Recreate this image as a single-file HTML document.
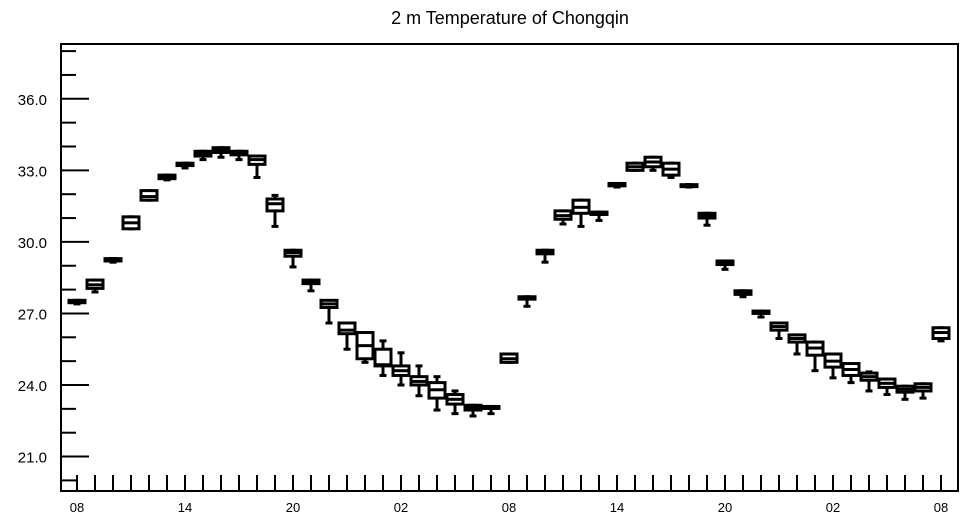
<!DOCTYPE html>
<html><head><meta charset="utf-8"><style>
body{margin:0;background:#fff;width:964px;height:520px;overflow:hidden}
svg{display:block;font-family:"Liberation Sans",sans-serif}
</style></head><body>
<svg id="chart" width="964" height="520">
<text x="510" y="24" text-anchor="middle" font-size="18">2 m Temperature of Chongqin</text>
<rect x="61" y="44" width="897" height="447" fill="none" stroke="#000" stroke-width="2"/>
<g id="axes"></g><g id="boxes"></g>
</svg>
<script>
const hours=["08","09","10","11","12","13","14","15","16","17","18","19","20","21","22","23","00","01","02","03","04","05","06","07","08","09","10","11","12","13","14","15","16","17","18","19","20","21","22","23","00","01","02","03","04","05","06","07","08"];
const mins=[27.4,27.9,29.15,30.55,31.75,32.6,33.1,33.45,33.55,33.45,32.7,30.65,28.95,27.95,26.6,25.5,24.95,24.4,24.0,23.55,22.95,22.8,22.7,22.8,24.95,27.3,29.15,30.75,30.65,30.9,32.3,33.0,33.0,32.7,32.3,30.7,28.85,27.7,26.85,25.95,25.3,24.6,24.3,24.1,23.75,23.6,23.4,23.45,25.85];
const q1s=[27.45,28.05,29.2,30.55,31.75,32.65,33.2,33.6,33.75,33.65,33.25,31.3,29.4,28.25,27.25,26.15,25.1,24.8,24.4,24.0,23.45,23.2,22.95,23.05,24.95,27.6,29.5,30.95,31.2,31.15,32.35,33.0,33.15,32.8,32.35,31.0,29.05,27.8,27.0,26.3,25.8,25.25,24.75,24.4,24.2,23.9,23.7,23.75,25.95];
const meds=[27.5,28.2,29.25,30.8,31.9,32.72,33.25,33.7,33.85,33.72,33.45,31.6,29.55,28.32,27.4,26.3,25.65,24.85,24.6,24.15,23.8,23.4,23.05,23.07,25.1,27.65,29.57,31.1,31.45,31.2,32.4,33.15,33.35,33.05,32.37,31.1,29.12,27.87,27.05,26.45,25.95,25.55,25.0,24.65,24.35,24.07,23.82,23.9,26.2];
const q3s=[27.55,28.4,29.3,31.05,32.15,32.8,33.3,33.8,33.95,33.8,33.6,31.8,29.65,28.4,27.55,26.6,26.2,25.5,24.8,24.35,24.1,23.6,23.15,23.1,25.3,27.7,29.65,31.3,31.75,31.25,32.45,33.3,33.55,33.3,32.4,31.2,29.2,27.95,27.1,26.6,26.1,25.8,25.3,24.9,24.5,24.25,23.95,24.05,26.4];
const maxs=[27.55,28.4,29.3,31.05,32.15,32.8,33.3,33.8,33.95,33.8,33.6,31.95,29.65,28.4,27.5,26.55,26.2,25.85,25.35,24.8,24.35,23.75,23.15,23.1,25.3,27.7,29.65,31.3,31.75,31.25,32.45,33.3,33.55,33.3,32.4,31.2,29.2,27.95,27.1,26.6,26.1,25.8,25.2,24.85,24.55,24.25,23.95,24.05,26.4];
const yTicks=[21,24,27,30,33,36];
const NS="http://www.w3.org/2000/svg";
const X=i=>77+i*18, Y=v=>385-(v-24)*23.85;
function mk(t,a,p){const e=document.createElementNS(NS,t);for(const k in a)e.setAttribute(k,a[k]);p.appendChild(e);return e;}
const ax=document.getElementById('axes'), bx=document.getElementById('boxes');
for(let v=20;v<=38;v++){const y=Y(v);const major=yTicks.includes(v);
 const t=mk('line',{x1:61,x2:major?89:76,y1:y,y2:y,stroke:'#000','stroke-width':2},ax);
 
 
 if(major){const l=mk('text',{x:47,y:y+6,'text-anchor':'end','font-size':15},ax);l.textContent=v.toFixed(1);
 
 }}
hours.forEach((h,i)=>{const x=X(i);
 const t=mk('line',{x1:x,x2:x,y1:491,y2:475,stroke:'#000','stroke-width':2},ax);
 
 
 if(i%6===0){const l=mk('text',{x:x,y:512,'text-anchor':'middle','font-size':13},ax);l.textContent=h;
 
 }
 const g=mk('g',{stroke:'#000','stroke-width':3,fill:'#fff'},bx);
 
 
 mk('line',{x1:x,x2:x,y1:Y(maxs[i]),y2:Y(mins[i])},g);
 mk('line',{x1:x-3.5,x2:x+3.5,y1:Y(maxs[i]),y2:Y(maxs[i])},g);
 mk('line',{x1:x-3.5,x2:x+3.5,y1:Y(mins[i]),y2:Y(mins[i])},g);
 const top=Y(q3s[i]),bot=Y(q1s[i]);
 mk('rect',{x:x-8,y:top,width:16,height:Math.max(bot-top,2),fill:'#fff'},g);
 mk('line',{x1:x-8,x2:x+8,y1:Y(meds[i]),y2:Y(meds[i])},g);
});
</script>
</body></html>
